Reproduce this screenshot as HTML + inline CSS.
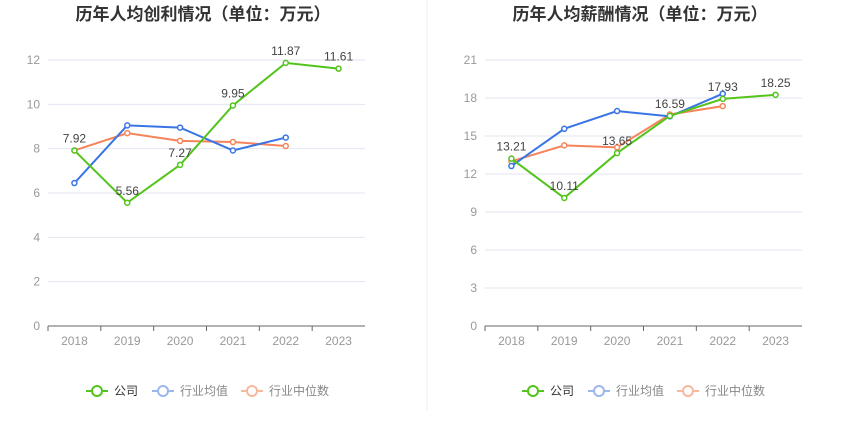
<!DOCTYPE html>
<html><head><meta charset="utf-8"><style>
body{margin:0;background:#fff;font-family:"Liberation Sans","Noto Sans CJK SC",sans-serif;}
svg text{font-family:"Liberation Sans","Noto Sans CJK SC",sans-serif;}
</style></head><body>
<svg id="svg" width="850" height="437" xmlns="http://www.w3.org/2000/svg">
<line x1="427" y1="0" x2="427" y2="410" stroke="#eee"/>
</svg>
<script>
const years=["2018","2019","2020","2021","2022","2023"];
const profitCompany=[7.92,5.56,7.27,9.95,11.87,11.61];
const profitAvg=[6.45,9.05,8.95,7.92,8.5];
const profitMedian=[7.92,8.7,8.35,8.3,8.12];
const profitTicks=[0,2,4,6,8,10,12];
const salaryCompany=[13.21,10.11,13.65,16.59,17.93,18.25];
const salaryAvg=[12.63,15.57,16.97,16.55,18.34];
const salaryMedian=[13.0,14.26,14.1,16.7,17.36];
const salaryTicks=[0,3,6,9,12,15,18,21];
const NS="http://www.w3.org/2000/svg";
const svg=document.getElementById('svg');
function mk(t,a,p){const e=document.createElementNS(NS,t);for(const k in a)e.setAttribute(k,a[k]);(p||svg).appendChild(e);return e;}
const colors={c:"#52c41a",a:"#3a75e6",m:"#f5845a"};
function chart(o){
  const g=mk('g',{});
  
  
  const x0=o.x0,x1=o.x0+317,yb=326,yt=60,max=o.ticks[o.ticks.length-1];
  const step=(x1-x0)/years.length;
  const X=i=>x0+step*(i+0.5);
  const Y=v=>yb-(v/max)*(yb-yt);
  const t=mk('text',{x:x0+155,y:20,'text-anchor':'middle','font-size':17,'font-weight':'bold',fill:'#333'},g);
  t.textContent=o.title;
  
  
  o.ticks.forEach(v=>{
    if(v>0){const l=mk('line',{x1:x0,x2:x1,y1:Y(v),y2:Y(v),stroke:'#e0e6f1'},g);
    
    }
    const tl=mk('text',{x:x0-8,y:Y(v)+4,'text-anchor':'end','font-size':12,fill:'#999'},g);
    tl.textContent=v;
    
    
  });
  const ax=mk('line',{x1:x0,x2:x1,y1:yb,y2:yb,stroke:'#666'},g);
  
  
  years.forEach((y,i)=>{
    const tk=mk('line',{x1:x0+step*i,x2:x0+step*i,y1:yb,y2:yb+5,stroke:'#666'},g);
    
    
    const tl=mk('text',{x:X(i),y:yb+19,'text-anchor':'middle','font-size':12,fill:'#999'},g);
    tl.textContent=y;
    
    
  });
  const series=[[o.m,colors.m,'median'],[o.a,colors.a,'avg'],[o.c,colors.c,'company']];
  series.forEach(([d,c,n])=>{
    const pl=mk('polyline',{points:d.map((v,i)=>X(i)+','+Y(v)).join(' '),fill:'none',stroke:c,'stroke-width':2},g);
    
    
    d.forEach((v,i)=>{
      const ci=mk('circle',{cx:X(i),cy:Y(v),r:2.5,fill:'#fff',stroke:c,'stroke-width':1.5},g);
      
      
    });
  });
  o.c.forEach((v,i)=>{
    const lb=mk('text',{x:X(i),y:Y(v)-8,'text-anchor':'middle','font-size':12,fill:'#444'},g);
    lb.textContent=v.toFixed(2);
    
    
  });
  const legs=[['公司',colors.c,'legend-company'],['行业均值','#9cb7ee','legend-industry-avg'],['行业中位数','#f8b89e','legend-industry-median']];
  const lx=[o.lx,o.lx+66,o.lx+155];
  legs.forEach(([txt,c,n],k)=>{
    const lg=mk('g',{},g);
    
    
    mk('line',{x1:lx[k],x2:lx[k]+22,y1:391,y2:391,stroke:c,'stroke-width':2},lg);
    mk('circle',{cx:lx[k]+11,cy:391,r:5,fill:'#fff',stroke:c,'stroke-width':2},lg);
    const tt=mk('text',{x:lx[k]+28,y:395,'font-size':12,fill:k==0?'#333':'#888'},lg);
    tt.textContent=txt;
  });
}
chart({name:'profit-chart',title:'历年人均创利情况（单位：万元）',x0:48,ticks:profitTicks,c:profitCompany,a:profitAvg,m:profitMedian,lx:86});
chart({name:'salary-chart',title:'历年人均薪酬情况（单位：万元）',x0:485,ticks:salaryTicks,c:salaryCompany,a:salaryAvg,m:salaryMedian,lx:522});
</script>
</body></html>
